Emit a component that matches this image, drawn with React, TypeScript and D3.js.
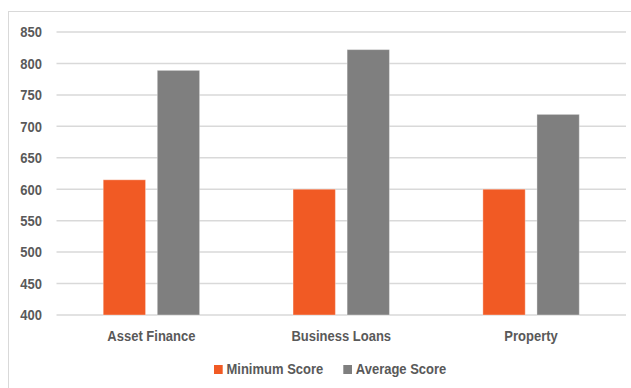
import React from "react";
import * as d3 from "d3";

// Chart data
const categories = ["Asset Finance", "Business Loans", "Property"];
const seriesNames = ["Minimum Score", "Average Score"];
const minimumScore = [615, 600, 600];
const averageScore = [789, 822, 719];
const yTicks = [400, 450, 500, 550, 600, 650, 700, 750, 800, 850];

const seriesValues = [minimumScore, averageScore];
const seriesColors = ["#F15A24", "#7F7F7F"];

const W = 631;
const H = 388;
const TEXT = "#595959";
const GRID = "#D9D9D9";
const FONT = "'Liberation Sans', Arial, sans-serif";

// Slightly tall glyphs, like the chart's typeface
const Label = ({ x, y, anchor, children }: { x: number; y: number; anchor: string; children: React.ReactNode }) => (
  <g transform={`translate(${x},${y}) scale(1,1.15)`}>
    <text x={0} y={0} textAnchor={anchor} fontFamily={FONT} fontWeight="bold" fontSize={13} fill={TEXT}>
      {children}
    </text>
  </g>
);

export default function App() {
  const y = d3.scaleLinear().domain([400, 850]).range([315, 32]);
  const x = d3.scaleBand<string>().domain(categories).range([56.5, 626]).padding(0);
  const bw = x.bandwidth();
  const groupHalf = 48.2;
  const sx = d3
    .scaleBand<string>()
    .domain(seriesNames)
    .range([bw / 2 - groupHalf, bw / 2 + groupHalf])
    .paddingInner(0.217)
    .paddingOuter(0);

  const [x0, x1] = x.range();

  return (
    <svg width={W} height={H} style={{ position: "absolute", left: 0, top: 0, background: "#fff" }}>
      <rect x={8.5} y={11.5} width={W + 20} height={H + 20} fill="#fff" stroke={GRID} strokeWidth={1} />

      {yTicks.map((t) => (
        <g key={t}>
          <line x1={x0} x2={x1} y1={y(t)} y2={y(t)} stroke={GRID} strokeWidth={1.5} />
          <Label x={42} y={y(t) + 5.3} anchor="end">
            {t}
          </Label>
        </g>
      ))}

      {categories.map((c, i) => (
        <g key={c} transform={`translate(${x(c)},0)`}>
          {seriesNames.map((s, j) => {
            const v = seriesValues[j][i];
            return (
              <rect
                key={s}
                x={sx(s)}
                y={y(v)}
                width={sx.bandwidth()}
                height={y(400) - y(v)}
                fill={seriesColors[j]}
                stroke="#ffffff"
                strokeOpacity={0.35}
                strokeWidth={1}
              />
            );
          })}
          <Label x={bw / 2} y={340.7} anchor="middle">
            {c}
          </Label>
        </g>
      ))}

      {/* legend */}
      {seriesNames.map((s, j) => {
        const lx = [214, 343.3][j];
        return (
          <g key={s}>
            <rect x={lx} y={365} width={8.7} height={9} fill={seriesColors[j]} />
            <Label x={lx + 12.5} y={374} anchor="start">
              {s}
            </Label>
          </g>
        );
      })}
    </svg>
  );
}
